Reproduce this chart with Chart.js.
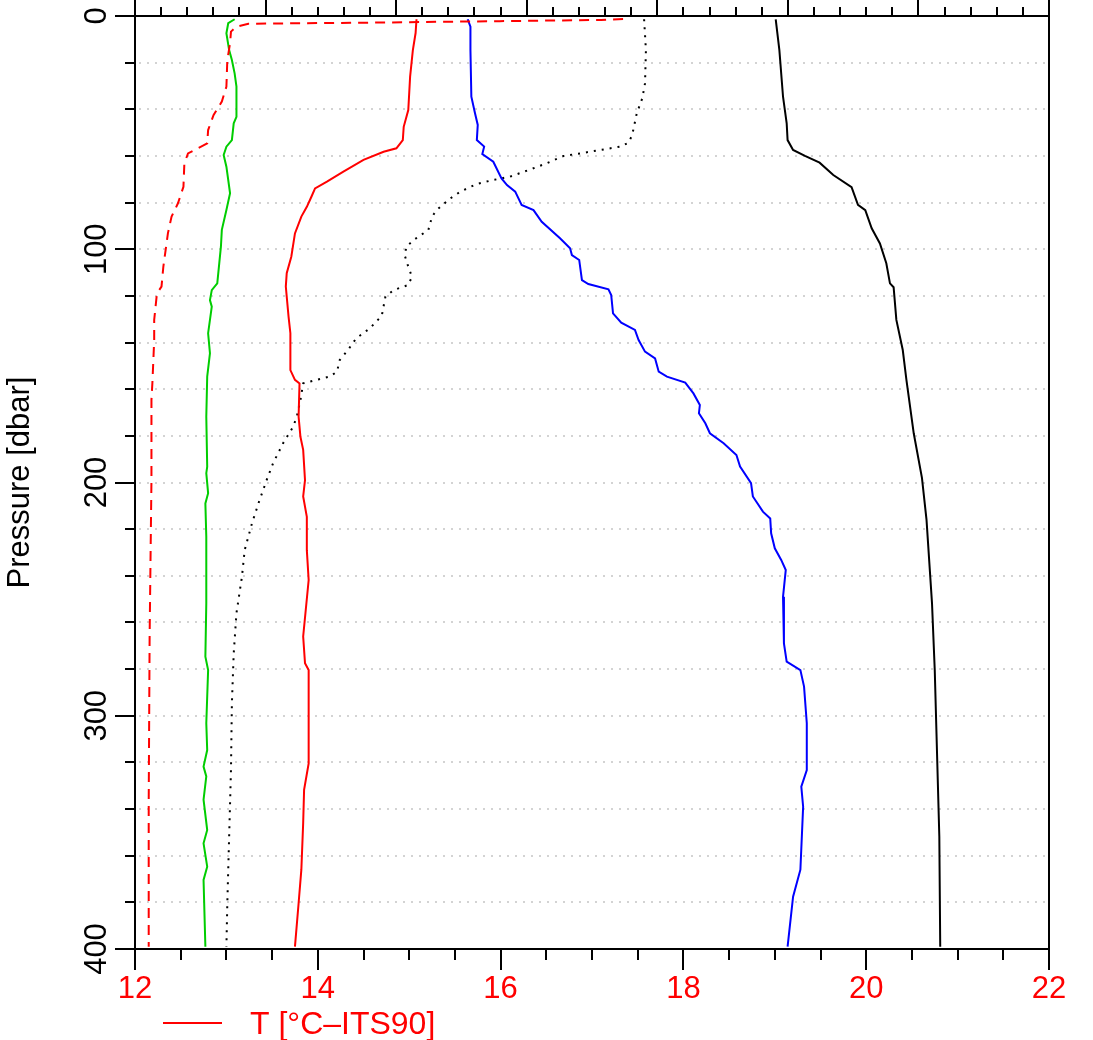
<!DOCTYPE html>
<html>
<head>
<meta charset="utf-8">
<title>CTD profile</title>
<script src="https://cdn.jsdelivr.net/npm/chart.js@4.4.0/dist/chart.umd.min.js"></script>
<style>
  body { margin: 0; background: #fff; }
  #wrap { width: 1093px; height: 1040px; }
</style>
</head>
<body>
<div id="wrap"><canvas id="profile" width="1093" height="1040"></canvas></div>
<script>
const tempTicks = [12, 14, 16, 18, 20, 22];
const pressureTicks = [0, 100, 200, 300, 400];

// red solid: T [°C-ITS90]
const redPressure = [1.4, 7.3, 14.6, 26, 40.3, 47.5, 53.2, 56.7, 58.2, 61.7, 66.7, 71, 73.9, 77.5, 81.8, 86, 93.2, 103.2, 110.3, 116, 128.9, 136, 151.8, 156, 157.5, 171.8, 180.4, 186, 199, 206, 214.7, 229, 241.8, 266, 277.5, 280.4, 320.4, 331.8, 346, 366, 380.4, 399];
const redValue = [15.08, 15.07, 15.04, 15.01, 14.99, 14.94, 14.93, 14.86, 14.72, 14.50, 14.28, 14.10, 13.97, 13.93, 13.88, 13.82, 13.75, 13.71, 13.66, 13.65, 13.68, 13.70, 13.70, 13.75, 13.80, 13.79, 13.81, 13.84, 13.86, 13.84, 13.88, 13.88, 13.90, 13.84, 13.86, 13.90, 13.90, 13.85, 13.84, 13.82, 13.79, 13.75];

// red dashed
const dashPressure = [1.3, 1.7, 2.2, 2.8, 3.3, 4.6, 6.7, 11.7, 18.9, 30.3, 36.7, 42.4, 48.9, 54.6, 58.9, 63.2, 73.2, 80.3, 86, 93.2, 107.5, 116, 118.9, 130.3, 138.9, 157.5, 164.6, 199, 266, 337.5, 399];
const dashValue = [17.34, 17.1, 15.99, 14.68, 13.24, 13.11, 13.05, 13.04, 13.01, 13.00, 12.95, 12.86, 12.80, 12.79, 12.58, 12.54, 12.53, 12.47, 12.40, 12.36, 12.31, 12.29, 12.24, 12.21, 12.21, 12.19, 12.18, 12.18, 12.16, 12.15, 12.15];

// green solid
const greenPressure = [1.4, 3.1, 7.4, 14.6, 18.9, 24.6, 30.3, 38.9, 43.2, 46, 53.2, 56, 59.6, 64.6, 76, 83.2, 91.7, 98.9, 114.6, 117.5, 121.8, 124.6, 136, 144.6, 154.6, 171.8, 193.2, 196, 204.6, 209, 223.2, 251.8, 274.7, 280.4, 303.2, 314.7, 321.8, 326, 336, 349, 354.7, 364.7, 370.4, 399];
const greenValue = [13.09, 13.02, 13.00, 13.03, 13.06, 13.09, 13.11, 13.11, 13.11, 13.08, 13.06, 13.00, 12.97, 13.00, 13.04, 13.00, 12.95, 12.94, 12.90, 12.84, 12.82, 12.84, 12.80, 12.82, 12.79, 12.78, 12.79, 12.78, 12.80, 12.77, 12.78, 12.78, 12.77, 12.80, 12.78, 12.79, 12.75, 12.78, 12.75, 12.79, 12.75, 12.79, 12.75, 12.77];

// blue solid
const bluePressure = [1.4, 4.6, 14.6, 34.6, 41.7, 46.7, 53.2, 56, 59.2, 62.5, 69.6, 72.5, 75.3, 81, 83.2, 88.2, 95.3, 99.6, 102.5, 104.6, 113.2, 114.9, 117.2, 119.6, 127.5, 131.5, 134.6, 138.9, 143.9, 146.8, 152.5, 154.6, 157.2, 161.8, 166.8, 170.3, 174.6, 178.9, 183.2, 188.2, 193.2, 200.3, 206, 212.5, 215.4, 221.8, 228.2, 233.2, 237.5, 249, 269, 276.8, 280.4, 287.5, 303.2, 323.3, 330.4, 339, 366, 377.6, 399];
const blueValue = [15.64, 15.67, 15.67, 15.68, 15.72, 15.75, 15.74, 15.82, 15.80, 15.92, 16.01, 16.07, 16.16, 16.23, 16.36, 16.45, 16.65, 16.76, 16.78, 16.86, 16.89, 16.96, 17.18, 17.21, 17.23, 17.32, 17.47, 17.51, 17.58, 17.69, 17.73, 17.82, 18.02, 18.11, 18.18, 18.17, 18.24, 18.29, 18.44, 18.58, 18.62, 18.74, 18.76, 18.87, 18.95, 18.96, 19.00, 19.07, 19.12, 19.09, 19.10, 19.13, 19.28, 19.32, 19.35, 19.35, 19.29, 19.31, 19.28, 19.20, 19.14];

// black solid
const blackPressure = [1.4, 14.6, 34.6, 46, 53.2, 57.4, 60, 62.9, 68.2, 73.4, 81, 83.2, 91, 97.5, 106, 114.6, 116.3, 130.3, 143.2, 156, 178.9, 198, 216, 251.8, 280.4, 309, 351.8, 399];
const blackValue = [19.01, 19.05, 19.09, 19.13, 19.14, 19.20, 19.33, 19.49, 19.64, 19.84, 19.91, 19.99, 20.06, 20.15, 20.22, 20.26, 20.30, 20.33, 20.40, 20.44, 20.52, 20.61, 20.66, 20.72, 20.75, 20.77, 20.80, 20.81];

// black dotted
const dotPressure = [1.4, 14.6, 28.9, 35.3, 41.7, 51, 54.3, 56, 58.9, 60, 63.2, 66.3, 68.9, 70.3, 72, 75.3, 78.2, 83.2, 86, 91.7, 96, 98.9, 102.5, 107.5, 111.8, 115.3, 117.5, 120.3, 128.5, 133.9, 138.2, 143.2, 147.5, 152.5, 154.6, 156.4, 157.5, 164.6, 171.8, 176.1, 183.2, 191.8, 199, 209, 217.5, 229, 240.4, 256, 273.3, 294.7, 323.3, 351.8, 380.4, 399];
const dotValue = [17.57, 17.59, 17.58, 17.55, 17.49, 17.44, 17.40, 17.31, 16.87, 16.69, 16.50, 16.29, 16.10, 15.92, 15.74, 15.56, 15.45, 15.30, 15.25, 15.21, 15.05, 14.97, 14.95, 14.99, 15.03, 14.99, 14.83, 14.74, 14.70, 14.57, 14.42, 14.33, 14.24, 14.21, 14.13, 13.95, 13.84, 13.81, 13.77, 13.73, 13.62, 13.51, 13.44, 13.35, 13.28, 13.20, 13.17, 13.11, 13.08, 13.06, 13.05, 13.03, 13.01, 13.00];

const FONT = "'Liberation Sans', Arial, Helvetica, sans-serif";
Chart.defaults.font.family = FONT;

function profile(label, values, pressures, color, dash) {
    return {
        label: label,
        data: values.map((v, i) => ({ x: v, y: pressures[i] })),
        borderColor: color,
        backgroundColor: color,
        borderWidth: 2,
        borderDash: dash || [],
        pointRadius: 0,
        showLine: true,
        tension: 0
    };
}

// grid dots, box, tick marks and the single legend entry
const axesBox = {
    id: 'axesBox',
    beforeDatasetsDraw(chart) {
        const { ctx, chartArea: a, scales: { y } } = chart;
        ctx.save();
        ctx.strokeStyle = '#d3d3d3';
        ctx.lineWidth = 2;
        ctx.setLineDash([2, 6]);
        for (let p = 20; p < 400; p += 20) {
            const py = Math.round(y.getPixelForValue(p));
            ctx.beginPath();
            ctx.moveTo(a.left + 4, py);
            ctx.lineTo(a.right, py);
            ctx.stroke();
        }
        ctx.restore();
    },
    afterDatasetsDraw(chart) {
        const { ctx, chartArea: a, scales: { x, x2, y } } = chart;
        ctx.save();
        ctx.strokeStyle = '#000';
        ctx.lineWidth = 2;
        ctx.strokeRect(a.left, a.top, a.right - a.left, a.bottom - a.top);

        ctx.beginPath();
        // bottom axis: minor every 0.5, major at labelled values
        for (let v = 12; v <= 22.001; v += 0.5) {
            const px = Math.round(x.getPixelForValue(v));
            const len = tempTicks.includes(Math.round(v * 10) / 10) ? 21 : 11;
            ctx.moveTo(px, a.bottom);
            ctx.lineTo(px, a.bottom + len);
        }
        // top axis (unlabelled in view)
        for (let i = 0; i <= 35; i++) {
            const px = Math.round(x2.getPixelForValue(i / 5));
            const len = i % 5 === 0 ? 18 : 9;
            ctx.moveTo(px, a.top);
            ctx.lineTo(px, a.top - len);
        }
        // pressure axis
        for (let p = 0; p <= 400; p += 20) {
            const py = Math.round(y.getPixelForValue(p));
            const len = pressureTicks.includes(p) ? 20 : 10;
            ctx.moveTo(a.left, py);
            ctx.lineTo(a.left - len, py);
        }
        ctx.stroke();

        // legend
        const ds = chart.data.datasets[0];
        ctx.strokeStyle = ds.borderColor;
        ctx.beginPath();
        ctx.moveTo(163, 1023);
        ctx.lineTo(222, 1023);
        ctx.stroke();
        ctx.fillStyle = ds.borderColor;
        ctx.font = '32px ' + FONT;
        ctx.textBaseline = 'middle';
        ctx.fillText(ds.label, 250, 1025);
        ctx.restore();
    }
};

const profileChart = new Chart(document.getElementById('profile'), {
    type: 'scatter',
    data: {
        datasets: [
            profile('T [°C–ITS90]', redValue, redPressure, '#ff0000'),
            profile('red dashed', dashValue, dashPressure, '#ff0000', [10, 7]),
            profile('green', greenValue, greenPressure, '#00cd00'),
            profile('blue', blueValue, bluePressure, '#0000ff'),
            profile('black', blackValue, blackPressure, '#000000'),
            profile('black dotted', dotValue, dotPressure, '#000000', [2, 6])
        ]
    },
    options: {
        responsive: false,
        animation: false,
        devicePixelRatio: 1,
        layout: { padding: { right: 44 } },
        plugins: {
            legend: { display: false },
            tooltip: { enabled: false }
        },
        scales: {
            x: {
                type: 'linear',
                position: 'bottom',
                min: 12,
                max: 22,
                grid: { display: false, drawTicks: false },
                border: { display: false },
                ticks: {
                    stepSize: 2,
                    autoSkip: false,
                    maxRotation: 0,
                    padding: 22,
                    color: '#ff0000',
                    font: { size: 31 }
                },
                afterFit: s => { s.height = 91; s.paddingLeft = 0; s.paddingRight = 0; }
            },
            x2: {
                type: 'linear',
                position: 'top',
                min: 0,
                max: 7,
                grid: { display: false, drawTicks: false },
                border: { display: false },
                ticks: { display: false },
                afterFit: s => { s.height = 16; }
            },
            y: {
                type: 'linear',
                reverse: true,
                min: 0,
                max: 400,
                grid: { display: false, drawTicks: false },
                border: { display: false },
                ticks: {
                    stepSize: 100,
                    minRotation: 90,
                    maxRotation: 90,
                    crossAlign: 'center',
                    padding: 12,
                    color: '#000',
                    font: { size: 31 }
                },
                title: {
                    display: true,
                    text: 'Pressure [dbar]',
                    color: '#000',
                    font: { size: 31 },
                    padding: { top: 2, bottom: 0 }
                },
                afterFit: s => { s.width = 135; s.paddingTop = 0; s.paddingBottom = 0; }
            }
        }
    },
    plugins: [axesBox]
});
</script>
</body>
</html>
